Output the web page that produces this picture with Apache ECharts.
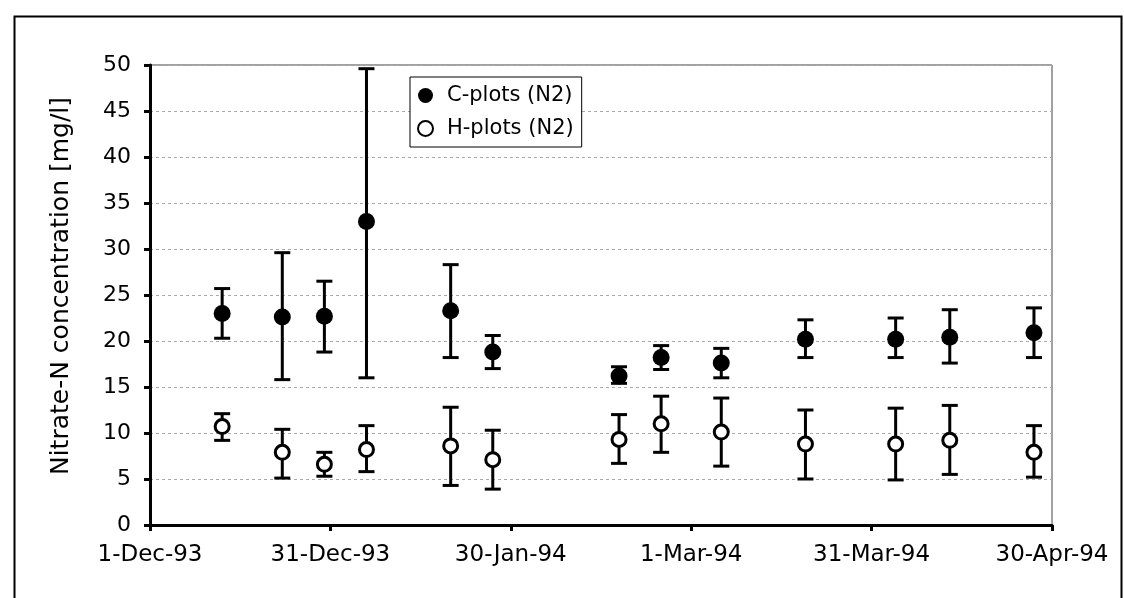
<!DOCTYPE html>
<html>
<head>
<meta charset="utf-8">
<script src="https://cdn.jsdelivr.net/npm/echarts@6/dist/echarts.min.js"></script>
<style>
html,body{margin:0;padding:0;background:#fff;}
#chart{width:1124px;height:598px;}
</style>
</head>
<body>
<div id="chart"></div>
<script>
// ---- data ----
const sampleDates = ['1993-12-13','1993-12-23','1993-12-30','1994-01-06','1994-01-20','1994-01-27',
  '1994-02-17','1994-02-24','1994-03-06','1994-03-20','1994-04-04','1994-04-13','1994-04-27'];
const cMean = [23.0, 22.6, 22.7, 33.0, 23.3, 18.8, 16.2, 18.2, 17.6, 20.2, 20.2, 20.4, 20.9];
const cLow  = [20.3, 15.8, 18.8, 16.0, 18.2, 17.0, 15.4, 16.9, 16.0, 18.2, 18.2, 17.6, 18.2];
const cHigh = [25.7, 29.6, 26.5, 49.6, 28.3, 20.6, 17.2, 19.5, 19.2, 22.3, 22.5, 23.4, 23.6];
const hMean = [10.7, 7.9, 6.6, 8.2, 8.6, 7.1, 9.3, 11.0, 10.1, 8.8, 8.8, 9.2, 7.9];
const hLow  = [9.2, 5.1, 5.3, 5.8, 4.3, 3.9, 6.7, 7.9, 6.4, 5.0, 4.9, 5.5, 5.2];
const hHigh = [12.1, 10.4, 7.9, 10.8, 12.8, 10.3, 12.0, 14.0, 13.8, 12.5, 12.7, 13.0, 10.8];
const seriesNames = ['C-plots (N2)', 'H-plots (N2)'];
const xStartDate = '1993-12-01';
const xEndDays = 150;
const xTickDays = 30;
const yMin = 0, yMax = 50, yStep = 5;
const yAxisTitle = 'Nitrate-N concentration [mg/l]';

// ---- helpers ----
const DAY = 86400000;
function toUTC(s){ const p = s.split('-').map(Number); return Date.UTC(p[0], p[1]-1, p[2]); }
const t0 = toUTC(xStartDate);
function dayOffset(s){ return Math.round((toUTC(s) - t0) / DAY); }
const MON = ['Jan','Feb','Mar','Apr','May','Jun','Jul','Aug','Sep','Oct','Nov','Dec'];
function fmtDay(v){
  const d = new Date(t0 + v * DAY);
  return d.getUTCDate() + '-' + MON[d.getUTCMonth()] + '-' + String(d.getUTCFullYear()).slice(2);
}
const xs = sampleDates.map(dayOffset);
const cPts = xs.map((x,i)=>[x, cMean[i]]);
const hPts = xs.map((x,i)=>[x, hMean[i]]);
const cErr = xs.map((x,i)=>[x, cLow[i], cHigh[i]]);
const hErr = xs.map((x,i)=>[x, hLow[i], hHigh[i]]);

function errRender(params, api){
  const x = api.value(0);
  const lo = api.coord([x, api.value(1)]);
  const hi = api.coord([x, api.value(2)]);
  const hw = 8;
  const st = {stroke:'#000', lineWidth:3};
  return {type:'group', children:[
    {type:'line', shape:{x1:lo[0], y1:lo[1], x2:hi[0], y2:hi[1]}, style:st},
    {type:'line', shape:{x1:hi[0]-hw, y1:hi[1], x2:hi[0]+hw, y2:hi[1]}, style:st},
    {type:'line', shape:{x1:lo[0]-hw, y1:lo[1], x2:lo[0]+hw, y2:lo[1]}, style:st}
  ]};
}

const FONT = 'DejaVu Sans';
const chart = echarts.init(document.getElementById('chart'), null, {renderer:'canvas'});
chart.setOption({
  animation:false,
  backgroundColor:'#fff',
  graphic:[{
    type:'rect', left:12, top:14, z:-1,
    shape:{x:0, y:0, width:1107, height:620},
    style:{fill:'none', stroke:'#000', lineWidth:2}
  }],
  legend:{
    left:410, top:77, orient:'vertical',
    data:seriesNames,
    itemWidth:15, itemHeight:15, itemGap:12,
    padding:[8,8,8,7],
    borderColor:'#000', borderWidth:1, backgroundColor:'#fff',
    textStyle:{fontFamily:FONT, fontSize:21, color:'#000', padding:[0,0,0,9]}
  },
  grid:{left:150, top:65, right:72, bottom:73, show:true, borderColor:'#444', borderWidth:1},
  xAxis:{
    type:'value', min:0, max:xEndDays, interval:xTickDays,
    axisLine:{show:true, onZero:false, lineStyle:{color:'#000', width:3}},
    axisTick:{show:true, length:6, lineStyle:{color:'#000', width:3}},
    axisLabel:{formatter:fmtDay, fontFamily:FONT, fontSize:23, color:'#000', margin:19},
    splitLine:{show:false}
  },
  yAxis:{
    type:'value', min:yMin, max:yMax, interval:yStep,
    name:yAxisTitle, nameLocation:'middle', nameGap:76,
    nameTextStyle:{fontFamily:FONT, fontSize:25, color:'#000', padding:[0,0,0,18]},
    axisLine:{show:true, lineStyle:{color:'#000', width:3}},
    axisTick:{show:true, length:6, lineStyle:{color:'#000', width:3}},
    axisLabel:{fontFamily:FONT, fontSize:22, color:'#000', margin:19},
    splitLine:{show:true, lineStyle:{color:'#aaa', width:1, type:[3,3]}}
  },
  series:[
    {type:'custom', name:'errC', renderItem:errRender, data:cErr, z:2, silent:true},
    {type:'custom', name:'errH', renderItem:errRender, data:hErr, z:2, silent:true},
    {type:'scatter', name:seriesNames[0], data:cPts, symbol:'circle', symbolSize:17, z:5,
      itemStyle:{color:'#000', opacity:1}},
    {type:'scatter', name:seriesNames[1], data:hPts, symbol:'circle', symbolSize:14, z:5,
      itemStyle:{color:'#fff', borderColor:'#000', borderWidth:3, opacity:1}}
  ]
});
</script>
</body>
</html>
